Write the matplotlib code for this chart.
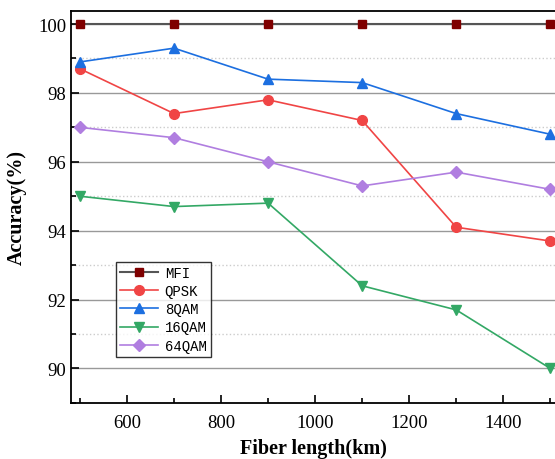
import numpy as np
import matplotlib.pyplot as plt
from matplotlib.ticker import MultipleLocator

lengths = [500, 700, 900, 1100, 1300, 1500]
mfi = [100, 100, 100, 100, 100, 100]
qpsk = [98.7, 97.4, 97.8, 97.2, 94.1, 93.7]
qam8 = [98.9, 99.3, 98.4, 98.3, 97.4, 96.8]
qam16 = [95.0, 94.7, 94.8, 92.4, 91.7, 90.0]
qam64 = [97.0, 96.7, 96.0, 95.3, 95.7, 95.2]

plt.rcParams['font.family'] = 'Liberation Serif'

fig = plt.figure(figsize=(5.55, 4.6), dpi=100)
ax = fig.add_axes([0.128, 0.122, 0.872, 0.852])

ax.plot(lengths, mfi, color='#555555', lw=1.5, marker='s', ms=5.8,
        mfc='#7f0000', mec='#7f0000', label='MFI', zorder=5)
ax.plot(lengths, qpsk, color='#f04545', lw=1.2, marker='o', ms=7, label='QPSK', zorder=5)
ax.plot(lengths, qam8, color='#1c6fe0', lw=1.2, marker='^', ms=7.5, label='8QAM', zorder=5)
ax.plot(lengths, qam16, color='#33a865', lw=1.2, marker='v', ms=7.5, label='16QAM', zorder=5)
ax.plot(lengths, qam64, color='#b07ee0', lw=1.2, marker='D', ms=6, label='64QAM', zorder=5)

ax.set_xlim(481, 1510)
ax.set_ylim(89, 100.38)
ax.xaxis.set_major_locator(MultipleLocator(200))
ax.xaxis.set_minor_locator(MultipleLocator(100))
ax.yaxis.set_major_locator(MultipleLocator(2))
ax.yaxis.set_minor_locator(MultipleLocator(1))
ax.tick_params(which='both', direction='in', labelsize=13.5, width=1.2)
ax.tick_params(which='major', length=6)
ax.tick_params(which='minor', length=3.5)
ax.tick_params(axis='x', pad=8)

ax.grid(which='major', axis='y', color='#999999', lw=1.0)
ax.grid(which='minor', axis='y', color='#cccccc', lw=1.0, ls=':')
ax.set_axisbelow(True)

ax.spines['right'].set_visible(False)
for s in ['left', 'bottom', 'top']:
    ax.spines[s].set_linewidth(1.3)

ax.set_xlabel('Fiber length(km)', fontsize=14.5, fontweight='bold', labelpad=5)
ax.set_ylabel('Accuracy(%)', fontsize=14.5, fontweight='bold', labelpad=8)

leg = ax.legend(loc='upper left', bbox_to_anchor=(0.093, 0.36),
                prop={'family': 'Liberation Mono', 'size': 10},
                frameon=True, fancybox=False, edgecolor='black',
                borderpad=0.3, labelspacing=0.3, handlelength=2.7,
                handletextpad=0.5, borderaxespad=0)
leg.get_frame().set_linewidth(1.0)

plt.savefig('out.png', dpi=100)
